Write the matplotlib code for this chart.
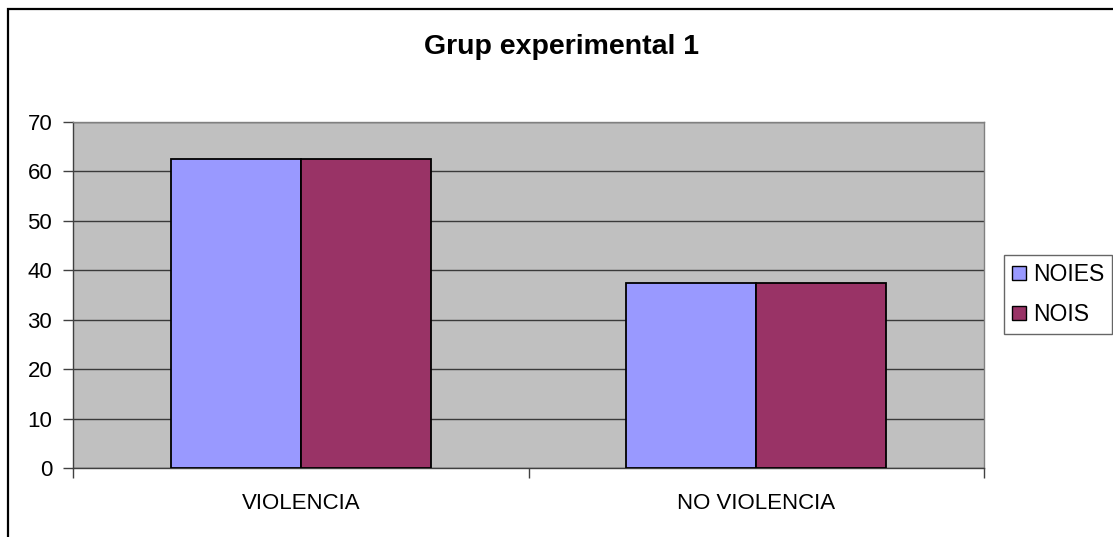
import matplotlib
matplotlib.use("Agg")
import matplotlib.pyplot as plt
from matplotlib.patches import Rectangle, Patch
import numpy as np

plt.rcParams['font.family'] = ['Liberation Sans', 'DejaVu Sans']

categories = ["VIOLENCIA", "NO VIOLENCIA"]
series_names = ["NOIES", "NOIS"]
noies = [62.5, 37.5]
nois = [62.5, 37.5]
yticks = [0, 10, 20, 30, 40, 50, 60, 70]
title = "Grup experimental 1"

colors = ["#9999FF", "#993366"]

W, H = 1113, 537
fig = plt.figure(figsize=(W / 100, H / 100), dpi=100)
fig.patch.set_facecolor("white")

# Outer chart border (only top and left visible within the canvas)
fig.add_artist(Rectangle((7.5 / W, -0.1), 1.2, 1.1 - 9 / H,
                         transform=fig.transFigure, fill=False,
                         edgecolor="black", linewidth=1.6))

ax = fig.add_axes([73 / W, (H - 468) / H, 911 / W, 346 / H])
ax.set_facecolor("#C0C0C0")

x = np.arange(len(categories))
bw = 0.285
ax.bar(x - bw / 2, noies, bw, color=colors[0], edgecolor="black", linewidth=1.3, zorder=3)
ax.bar(x + bw / 2, nois, bw, color=colors[1], edgecolor="black", linewidth=1.3, zorder=3)

ax.set_xlim(-0.5, len(categories) - 0.5)
ax.set_ylim(0, 70)

ax.set_yticks(yticks)
ax.set_yticklabels([str(v) for v in yticks], fontsize=16)
ax.yaxis.grid(True, color="#3a3a3a", linewidth=1.0, zorder=1)
ax.set_axisbelow(True)

# Category boundary ticks and centered labels
ax.set_xticks(np.arange(len(categories) + 1) - 0.5)
ax.set_xticklabels([])
ax.set_xticks(x, minor=True)
ax.set_xticklabels(categories, minor=True, fontsize=16)
ax.tick_params(axis="x", which="major", length=7, width=1, color="#404040", direction="out")
ax.tick_params(axis="x", which="minor", length=0, pad=18)
ax.tick_params(axis="y", length=7, width=1, color="#404040", direction="out", pad=8)

for side in ("left", "bottom"):
    ax.spines[side].set_color("#404040")
    ax.spines[side].set_linewidth(1.0)
for side in ("top", "right"):
    ax.spines[side].set_color("#808080")
    ax.spines[side].set_linewidth(1.0)

fig.text(562 / W, 1 - 54 / H, title, ha="center", va="baseline",
         fontsize=20.5, fontweight="bold")

handles = [Patch(facecolor=c, edgecolor="black", linewidth=1.0) for c in colors]
leg = fig.legend(handles, series_names, loc="upper left",
                 bbox_to_anchor=(1004 / W, 1 - 255 / H), fontsize=16.5,
                 frameon=True, fancybox=False, edgecolor="#404040",
                 handlelength=0.6, handleheight=0.6, handletextpad=0.3,
                 borderpad=0.35, labelspacing=0.75, borderaxespad=0)
leg.get_frame().set_linewidth(1.0)

fig.savefig("out.png", dpi=100, facecolor="white")
